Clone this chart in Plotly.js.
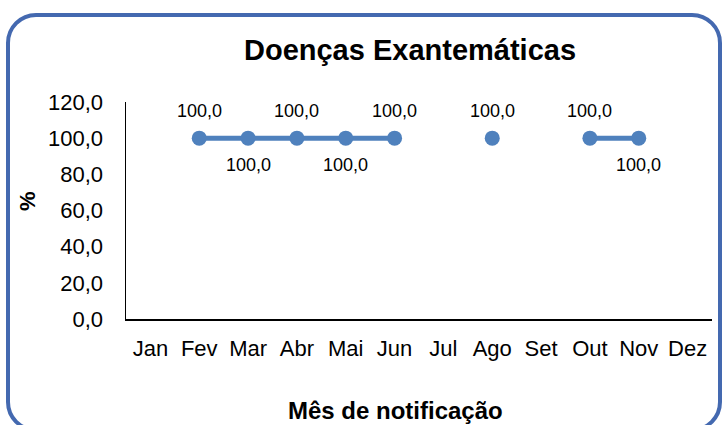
<!DOCTYPE html>
<html>
<head>
<meta charset="utf-8">
<script src="https://cdn.plot.ly/plotly-3.0.1.min.js"></script>
<style>
  html, body { margin: 0; padding: 0; background: #ffffff; overflow: hidden; }
  #frame {
    position: absolute; left: 6px; top: 13px; width: 716px; height: 419px;
    box-sizing: border-box; border: 4px solid #4469b0; border-radius: 30px;
    background: #ffffff;
  }
  #chart { position: absolute; left: 0; top: 0; width: 724px; height: 425px; }
</style>
</head>
<body>
<div id="frame"></div>
<div id="chart"></div>
<script>
// Data
const months = ["Jan", "Fev", "Mar", "Abr", "Mai", "Jun", "Jul", "Ago", "Set", "Out", "Nov", "Dez"];
const values = [null, 100, 100, 100, 100, 100, null, 100, null, 100, 100, null];
const labelSide = [0, 1, -1, 1, -1, 1, 0, 1, 0, 1, -1, 0]; // 1 above, -1 below

const chartTitle = "Doenças Exantemáticas";
const xTitle = "Mês de notificação";
const yTitle = "%";

const blue = "#4f81bd";
const font = "'Liberation Sans', Arial, sans-serif";

const trace = {
  type: "scatter",
  mode: "lines+markers",
  x: months,
  y: values,
  connectgaps: false,
  line: { color: blue, width: 5 },
  marker: { color: blue, size: 15 },
  hoverinfo: "skip"
};

const annotations = [];
months.forEach((m, i) => {
  if (values[i] === null) return;
  annotations.push({
    x: m, y: values[i], xref: "x", yref: "y",
    text: values[i].toFixed(1).replace(".", ","),
    showarrow: false,
    yshift: 27 * labelSide[i],
    font: { family: font, size: 18, color: "#000000" }
  });
});
annotations.push({
  xref: "paper", yref: "paper", x: (395 - 126) / 586, y: -(411 - 319.5) / 218,
  text: "<b>" + xTitle + "</b>", showarrow: false, xanchor: "center", yanchor: "middle",
  font: { family: font, size: 24, color: "#000000" }
});
annotations.push({
  xref: "paper", yref: "paper", x: (27 - 126) / 586, y: (319.5 - 201) / 218,
  text: "<b>" + yTitle + "</b>", showarrow: false, xanchor: "center", yanchor: "middle",
  textangle: -90,
  font: { family: font, size: 22, color: "#000000" }
});

const layout = {
  width: 724, height: 425,
  margin: { l: 126, r: 12, t: 101.5, b: 105.5 },
  paper_bgcolor: "rgba(0,0,0,0)",
  plot_bgcolor: "rgba(0,0,0,0)",
  separators: ",.",
  showlegend: false,
  title: {
    text: "<b>" + chartTitle + "</b>",
    x: 410 / 724, xref: "container", xanchor: "center",
    y: 1 - 50 / 425, yref: "container", yanchor: "middle",
    font: { family: font, size: 29, color: "#000000" }
  },
  xaxis: {
    type: "category",
    range: [-0.5, 11.5],
    showgrid: false, zeroline: false,
    showline: true, linecolor: "#000000", linewidth: 1.5,
    ticks: "", ticklabelstandoff: 9,
    tickfont: { family: font, size: 22, color: "#000000" },
    fixedrange: true
  },
  yaxis: {
    range: [0, 120], dtick: 20, tick0: 0,
    tickformat: ".1f",
    showgrid: false, zeroline: false,
    showline: true, linecolor: "#000000", linewidth: 1.5,
    ticks: "", ticklabelstandoff: 17,
    tickfont: { family: font, size: 22, color: "#000000" },
    fixedrange: true
  },
  annotations: annotations
};

Plotly.newPlot("chart", [trace], layout, { displayModeBar: false, staticPlot: true });
</script>
</body>
</html>
